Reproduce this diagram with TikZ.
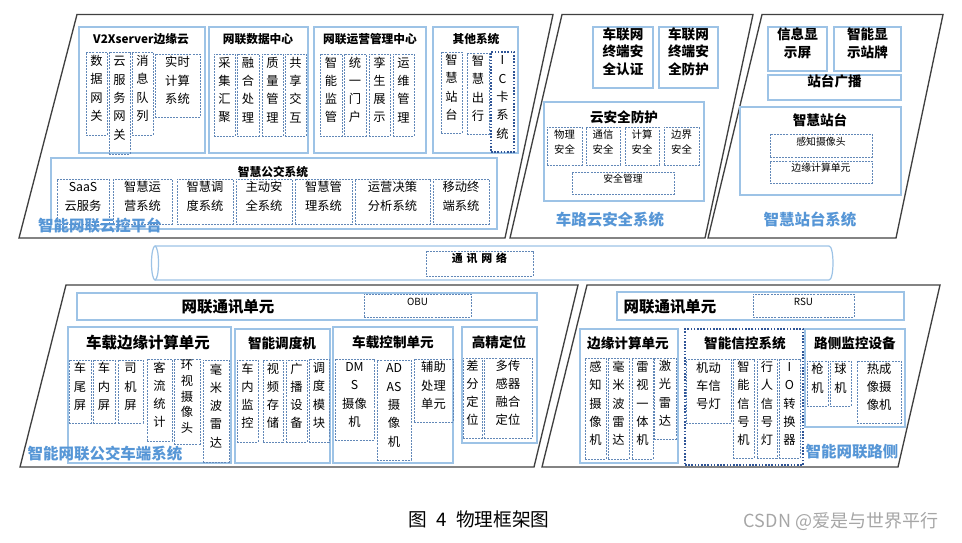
\documentclass[tikz,border=0pt]{standalone}
\usepackage{fontspec}
\setmainfont{Noto Sans CJK SC}
\usetikzlibrary{fit}
\usetikzlibrary{calc}

\definecolor{boxblue}{RGB}{157,195,230}
\definecolor{dashblue}{RGB}{98,136,184}
\definecolor{dotblue}{RGB}{47,85,151}
\definecolor{sysblue}{RGB}{86,150,214}
\definecolor{framegray}{RGB}{64,64,64}

\begin{document}
\begin{tikzpicture}[x=0.75pt, y=-0.75pt,
    frame/.style={draw=framegray, line width=1pt},
    cbox/.style={draw=boxblue, line width=0.8pt, inner sep=0pt, align=center},
    dbox/.style={draw=dashblue, line width=0.6pt, dash pattern=on 1.5pt off 0.8pt,
      inner sep=0pt, align=center, font=\fontsize{9.2}{13.7}\selectfont},
    ibox/.style={draw=dotblue, line width=1.3pt, dash pattern=on 1.2pt off 1.2pt,
      inner sep=0pt, align=center, font=\fontsize{9.2}{13.7}\selectfont},
    sbox/.style={dbox, font=\fontsize{7.8}{11.3}\selectfont},
    tbox/.style={dbox, font=\fontsize{7.4}{9}\selectfont},
    ttl/.style={font=\bfseries\fontsize{8.8}{11}\selectfont},
    ttlm/.style={font=\bfseries\fontsize{10.2}{13.1}\selectfont},
    ttll/.style={font=\bfseries\fontsize{11.6}{14}\selectfont},
    sys/.style={text=sysblue, font=\bfseries\fontsize{11.6}{14}\selectfont},
    pipe/.style={draw=boxblue, line width=0.9pt, fill=white}]
    \usetikzlibrary {fit}

    \useasboundingbox (0,0) rectangle (962,542);

    \draw[frame] (77,14.5) -- (553,14.5) -- (505,238) -- (19,238) -- cycle;
    \draw[frame] (562,14.5) -- (753,14.5) -- (705,238) -- (510,238) -- cycle;
    \draw[frame] (762,14.5) -- (943,14.5) -- (896,238) -- (708,238) -- cycle;
    \draw[frame] (66,285) -- (578,285) -- (534,467) -- (20,467) -- cycle;
    \draw[frame] (587,285) -- (940,285) -- (898,467) -- (542,467) -- cycle;

    \node[cbox, fit={(79,27) (205,153)}] (v2x) {};
    \node[ttl] (v2xT) at (141,39) {V2Xserver边缘云};
    \node[dbox, fit={(86,52) (107,135)}] (sjwg) {数\\据\\网\\关};
    \node[dbox, fit={(109,52) (130,154)}] (yfwg) {云\\服\\务\\网\\关};
    \node[dbox, fit={(132,52) (153,135)}] (xxdl) {消\\息\\队\\列};
    \node[dbox, fit={(155,54) (200,117)}] (ssjs) {实时\\计算\\系统};

    \node[cbox, fit={(209,27) (308,153)}] (sjzx) {};
    \node[ttl] (sjzxT) at (258,39) {网联数据中心};
    \node[dbox, fit={(214,54) (235,136)}] (cjhj) {采\\集\\汇\\聚};
    \node[dbox, fit={(237,54) (259,136)}] (rhcl) {融\\合\\处\\理};
    \node[dbox, fit={(262,54) (283,136)}] (zlgl) {质\\量\\管\\理};
    \node[dbox, fit={(285,54) (306,136)}] (gxjh) {共\\享\\交\\互};

    \node[cbox, fit={(314,27) (426,153)}] (yyzx) {};
    \node[ttl] (yyzxT) at (370,39) {网联运营管理中心};
    \node[dbox, fit={(320,54) (342,136)}] (znjg) {智\\能\\监\\管};
    \node[dbox, fit={(344,54) (366,136)}] (tymh) {统\\一\\门\\户};
    \node[dbox, fit={(369,54) (390,136)}] (lszs) {孪\\生\\展\\示};
    \node[dbox, fit={(393,54) (414,136)}] (ywgl) {运\\维\\管\\理};

    \node[cbox, fit={(433,27) (518,153)}] (qtxt) {};
    \node[ttl] (qtxtT) at (476,39) {其他系统};
    \node[dbox, fit={(441,52) (462,133)}] (zhzt) {智\\慧\\站\\台};
    \node[dbox, fit={(467,53) (489,134)}] (zhcx) {智\\慧\\出\\行};
    \node[ibox, fit={(491,52) (514,152)}] (ickxt) {I\\C\\卡\\系\\统};

    \node[cbox, fit={(51,158) (497,229)}] (gjxt) {};
    \node[ttl] (gjxtT) at (273,172) {智慧公交系统};
    \node[dbox, fit={(57,179) (109,224)}] (saas) {SaaS\\云服务};
    \node[dbox, fit={(113,179) (172,224)}] (zhyy) {智慧运\\营系统};
    \node[dbox, fit={(177,179) (233,224)}] (zhdd) {智慧调\\度系统};
    \node[dbox, fit={(236,179) (292,224)}] (zdaq) {主动安\\全系统};
    \node[dbox, fit={(295,179) (352,224)}] (zhgl) {智慧管\\理系统};
    \node[dbox, fit={(355,179) (430,224)}] (yyjc) {运营决策\\分析系统};
    \node[dbox, fit={(433,179) (489,224)}] (ydzd) {移动终\\端系统};
    \node[sys] (ykpt) at (100,226) {智能网联云控平台};

    \node[cbox, ttlm, fit={(593,27) (653,88)}] (aqrz) {车联网\\终端安\\全认证};
    \node[cbox, ttlm, fit={(659,27) (718,88)}] (aqfh) {车联网\\终端安\\全防护};
    \node[cbox, fit={(544,102) (704,201)}] (yaq) {};
    \node[ttlm] (yaqT) at (624,117) {云安全防护};
    \node[sbox, fit={(547,127) (582,165)}] (wlaq) {物理\\安全};
    \node[sbox, fit={(586,127) (620,165)}] (txaq) {通信\\安全};
    \node[sbox, fit={(625,127) (659,165)}] (jsaq) {计算\\安全};
    \node[sbox, fit={(664,127) (699,165)}] (bjaq) {边界\\安全};
    \node[tbox, fit={(572,172) (674,194)}] (aqgl) {安全管理};
    \node[sys] (aqxt) at (610,220) {车路云安全系统};

    \node[cbox, ttlm, fit={(768,27) (827,71)}] (xxxs) {信息显\\示屏};
    \node[cbox, ttlm, fit={(834,27) (901,71)}] (znzp) {智能显\\示站牌};
    \node[cbox, ttlm, fit={(768,75) (901,100)}] (ztgb) {站台广播};
    \node[cbox, fit={(740,107) (901,195)}] (zhzt2) {};
    \node[ttlm] (zhzt2T) at (820,120) {智慧站台};
    \node[tbox, fit={(770,134) (872,157)}] (gzsx) {感知摄像头};
    \node[tbox, fit={(770,161) (872,183)}] (byjs) {边缘计算单元};
    \node[sys] (ztxt) at (810,220) {智慧站台系统};

    \draw[pipe] (155,246) -- (829,246) .. controls (834.3,246) and (834.3,280) .. (829,280) -- (155,280);
    \draw[pipe] (155,263) ellipse (3.5 and 17);
    \node[dbox, fit={(426,251) (533,276)}, font=\bfseries\fontsize{8.2}{10}\selectfont] (txwl)
      {通\hspace{0.35em}讯\hspace{0.35em}网\hspace{0.35em}络};

    \node[cbox, fit={(77,293) (537,320)}] (obuTx) {};
    \node[ttll] (obuTxT) at (228,307) {网联通讯单元};
    \node[tbox, fit={(364,294) (471,317)}] (obu) {OBU};

    \node[cbox, fit={(68,327) (231,463)}] (cbjs) {};
    \node[ttll] (cbjsT) at (148,343) {车载边缘计算单元};
    \node[dbox, fit={(69,360) (91,423)}] (cwp) {车\\尾\\屏};
    \node[dbox, fit={(93,360) (115,423)}] (cnp) {车\\内\\屏};
    \node[dbox, fit={(118,360) (143,423)}] (sjp) {司\\机\\屏};
    \node[dbox, fit={(147,359) (172,441)}] (kltj) {客\\流\\统\\计};
    \node[dbox, fit={(174,359) (200,444)}, font=\fontsize{9.2}{11.8}\selectfont] (hssx) {环\\视\\摄\\像\\头};
    \node[dbox, fit={(203,360) (229,462)}] (hmbl) {毫\\米\\波\\雷\\达};

    \node[cbox, fit={(235,329) (330,463)}] (zndd) {};
    \node[ttlm] (znddT) at (282,343) {智能调度机};
    \node[dbox, fit={(237,360) (258,442)}] (cnjk) {车\\内\\监\\控};
    \node[dbox, fit={(263,360) (283,442)}] (spcc) {视\\频\\存\\储};
    \node[dbox, fit={(286,360) (307,442)}] (gbsb) {广\\播\\设\\备};
    \node[dbox, fit={(309,359) (329,442)}] (ddmk) {调\\度\\模\\块};

    \node[cbox, fit={(333,327) (453,463)}] (cbkz) {};
    \node[ttlm] (cbkzT) at (393,342) {车载控制单元};
    \node[dbox, fit={(335,359) (374,440)}] (dms) {DM\\S\\摄像\\机};
    \node[dbox, fit={(377,360) (411,460)}] (adas) {AD\\AS\\摄\\像\\机};
    \node[dbox, fit={(414,359) (453,422)}] (fzcl) {辅助\\处理\\单元};

    \node[cbox, fit={(462,327) (537,443)}] (gjdw) {};
    \node[ttlm] (gjdwT) at (499,342) {高精定位};
    \node[dbox, fit={(463,358) (482,438)}] (cfdw) {差\\分\\定\\位};
    \node[dbox, fit={(484,358) (532,438)}] (dcgq) {多传\\感器\\融合\\定位};
    \node[sys] (cdxt) at (105,454) {智能网联公交车端系统};

    \node[cbox, fit={(617,292) (904,320)}] (rsuTx) {};
    \node[ttll] (rsuTxT) at (670,307) {网联通讯单元};
    \node[tbox, fit={(753,294) (854,317)}] (rsu) {RSU};

    \node[cbox, fit={(580,329) (678,463)}] (byjs2) {};
    \node[ttlm] (byjs2T) at (628,343) {边缘计算单元};
    \node[dbox, fit={(585,358) (606,459)}] (gzsxj) {感\\知\\摄\\像\\机};
    \node[dbox, fit={(608,358) (629,459)}] (hmbl2) {毫\\米\\波\\雷\\达};
    \node[dbox, fit={(632,358) (653,459)}] (lsyt) {雷\\视\\一\\体\\机};
    \node[dbox, fit={(654,358) (676,439)}] (jgld) {激\\光\\雷\\达};

    \node[ibox, fit={(685,329) (803,465)}] (znxk) {};
    \node[ttlm] (znxkT) at (745,343) {智能信控系统};
    \node[dbox, fit={(686,359) (731,423)}] (jdcxh) {机动\\车信\\号灯};
    \node[dbox, fit={(733,359) (754,458)}] (znxhj) {智\\能\\信\\号\\机};
    \node[dbox, fit={(757,359) (777,458)}] (xrxh) {行\\人\\信\\号\\灯};
    \node[dbox, fit={(779,359) (800,458)}] (iozh) {I\\O\\转\\换\\器};

    \node[cbox, fit={(805,329) (905,427)}] (lcjk) {};
    \node[ttlm] (lcjkT) at (855,343) {路侧监控设备};
    \node[dbox, fit={(807,361) (828,406)}] (qj) {枪\\机};
    \node[dbox, fit={(830,361) (851,406)}] (qiuj) {球\\机};
    \node[dbox, fit={(857,361) (901,423)}] (rcx) {热成\\像摄\\像机};
    \node[sys] (lcxt) at (852,452) {智能网联路侧};

    \node[font=\fontsize{14}{16}\selectfont] (cap) at (479,519) {图\enspace 4\enspace 物理框架图};
    \node[text=black!35, font=\fontsize{13.5}{16}\selectfont] (mark) at (841,521) {CSDN @爱是与世界平行};

\end{tikzpicture}
\end{document}
